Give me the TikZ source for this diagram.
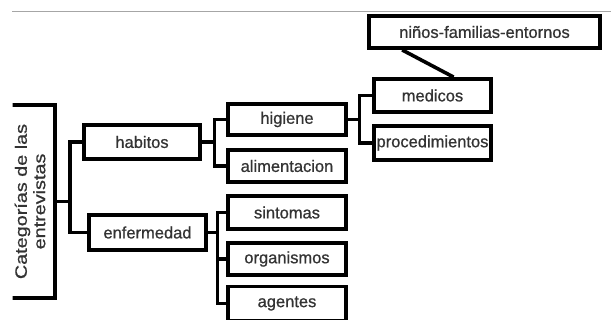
\documentclass[tikz,border=0pt]{standalone}
\usepackage{fontspec}
\setmainfont{Liberation Sans}[FakeBold=0.8]
\usepackage{graphicx}

\begin{document}
\begin{tikzpicture}[x=1pt,y=-1pt,
	catbox/.style={draw,line width=3.8pt,minimum width=118pt,minimum height=33pt,inner sep=0pt,text=black!80,font=\fontsize{16.5}{19}\selectfont},
	enlace/.style={line width=3.6pt}]
	\useasboundingbox (0,0) rectangle (611,320);
	\draw[gray!70,line width=1pt] (12,12) -- (611,12);
	\begin{scope}
	\clip (12.5,0) rectangle (611,320);
	\node[catbox,minimum width=50pt,minimum height=193pt] (root) at (30,201.5)
	{\rotatebox{90}{\scalebox{1.2}[1]{\shortstack{Categorías de las\\entrevistas}}}};
	\end{scope}
	\node[catbox,minimum width=116pt,minimum height=34pt] (habitos) at (142,142) {habitos};
	\node[catbox,minimum width=117pt,minimum height=35pt] (enfermedad) at (147.5,232.5) {enfermedad};
	\node[catbox,minimum height=31pt] (higiene) at (287,119.5) {higiene};
	\node[catbox,minimum height=32pt] (alimentacion) at (287,166) {alimentacion};
	\node[catbox] (sintomas) at (287,212.5) {sintomas};
	\node[catbox,minimum height=32pt] (organismos) at (287,259) {organismos};
	\node[catbox,minimum height=34pt] (agentes) at (287,303.5) {agentes};
	\node[catbox,minimum width=117pt] (medicos) at (432.5,95.5) {medicos};
	\node[catbox,minimum width=117pt,minimum height=34pt] (procedimientos) at (432.5,143) {procedimientos};
	\node[catbox,minimum width=231pt,minimum height=32pt] (ninos) at (484.5,32) {niños-familias-entornos};
	\draw[enlace] (root.east) -- ++(13,0) |- (habitos.west);
	\draw[enlace] (root.east) -- ++(13,0) |- (enfermedad.west);
	\draw[enlace] (habitos.east) -- ++(12.5,0) |- (higiene.west);
	\draw[enlace] (habitos.east) -- ++(12.5,0) |- (alimentacion.west);
	\foreach \hoja in {sintomas,organismos,agentes}
	{
		\draw[enlace] (enfermedad.east) -- ++(9.5,0) |- (\hoja.west);
	}
	\draw[enlace] (higiene.east) -- ++(11.5,0) |- (medicos.west);
	\draw[enlace] (higiene.east) -- ++(11.5,0) |- (procedimientos.west);
	\draw[enlace] ([xshift=35pt]ninos.south west) -- ([xshift=81.5pt]medicos.north west);
\end{tikzpicture}
\end{document}
